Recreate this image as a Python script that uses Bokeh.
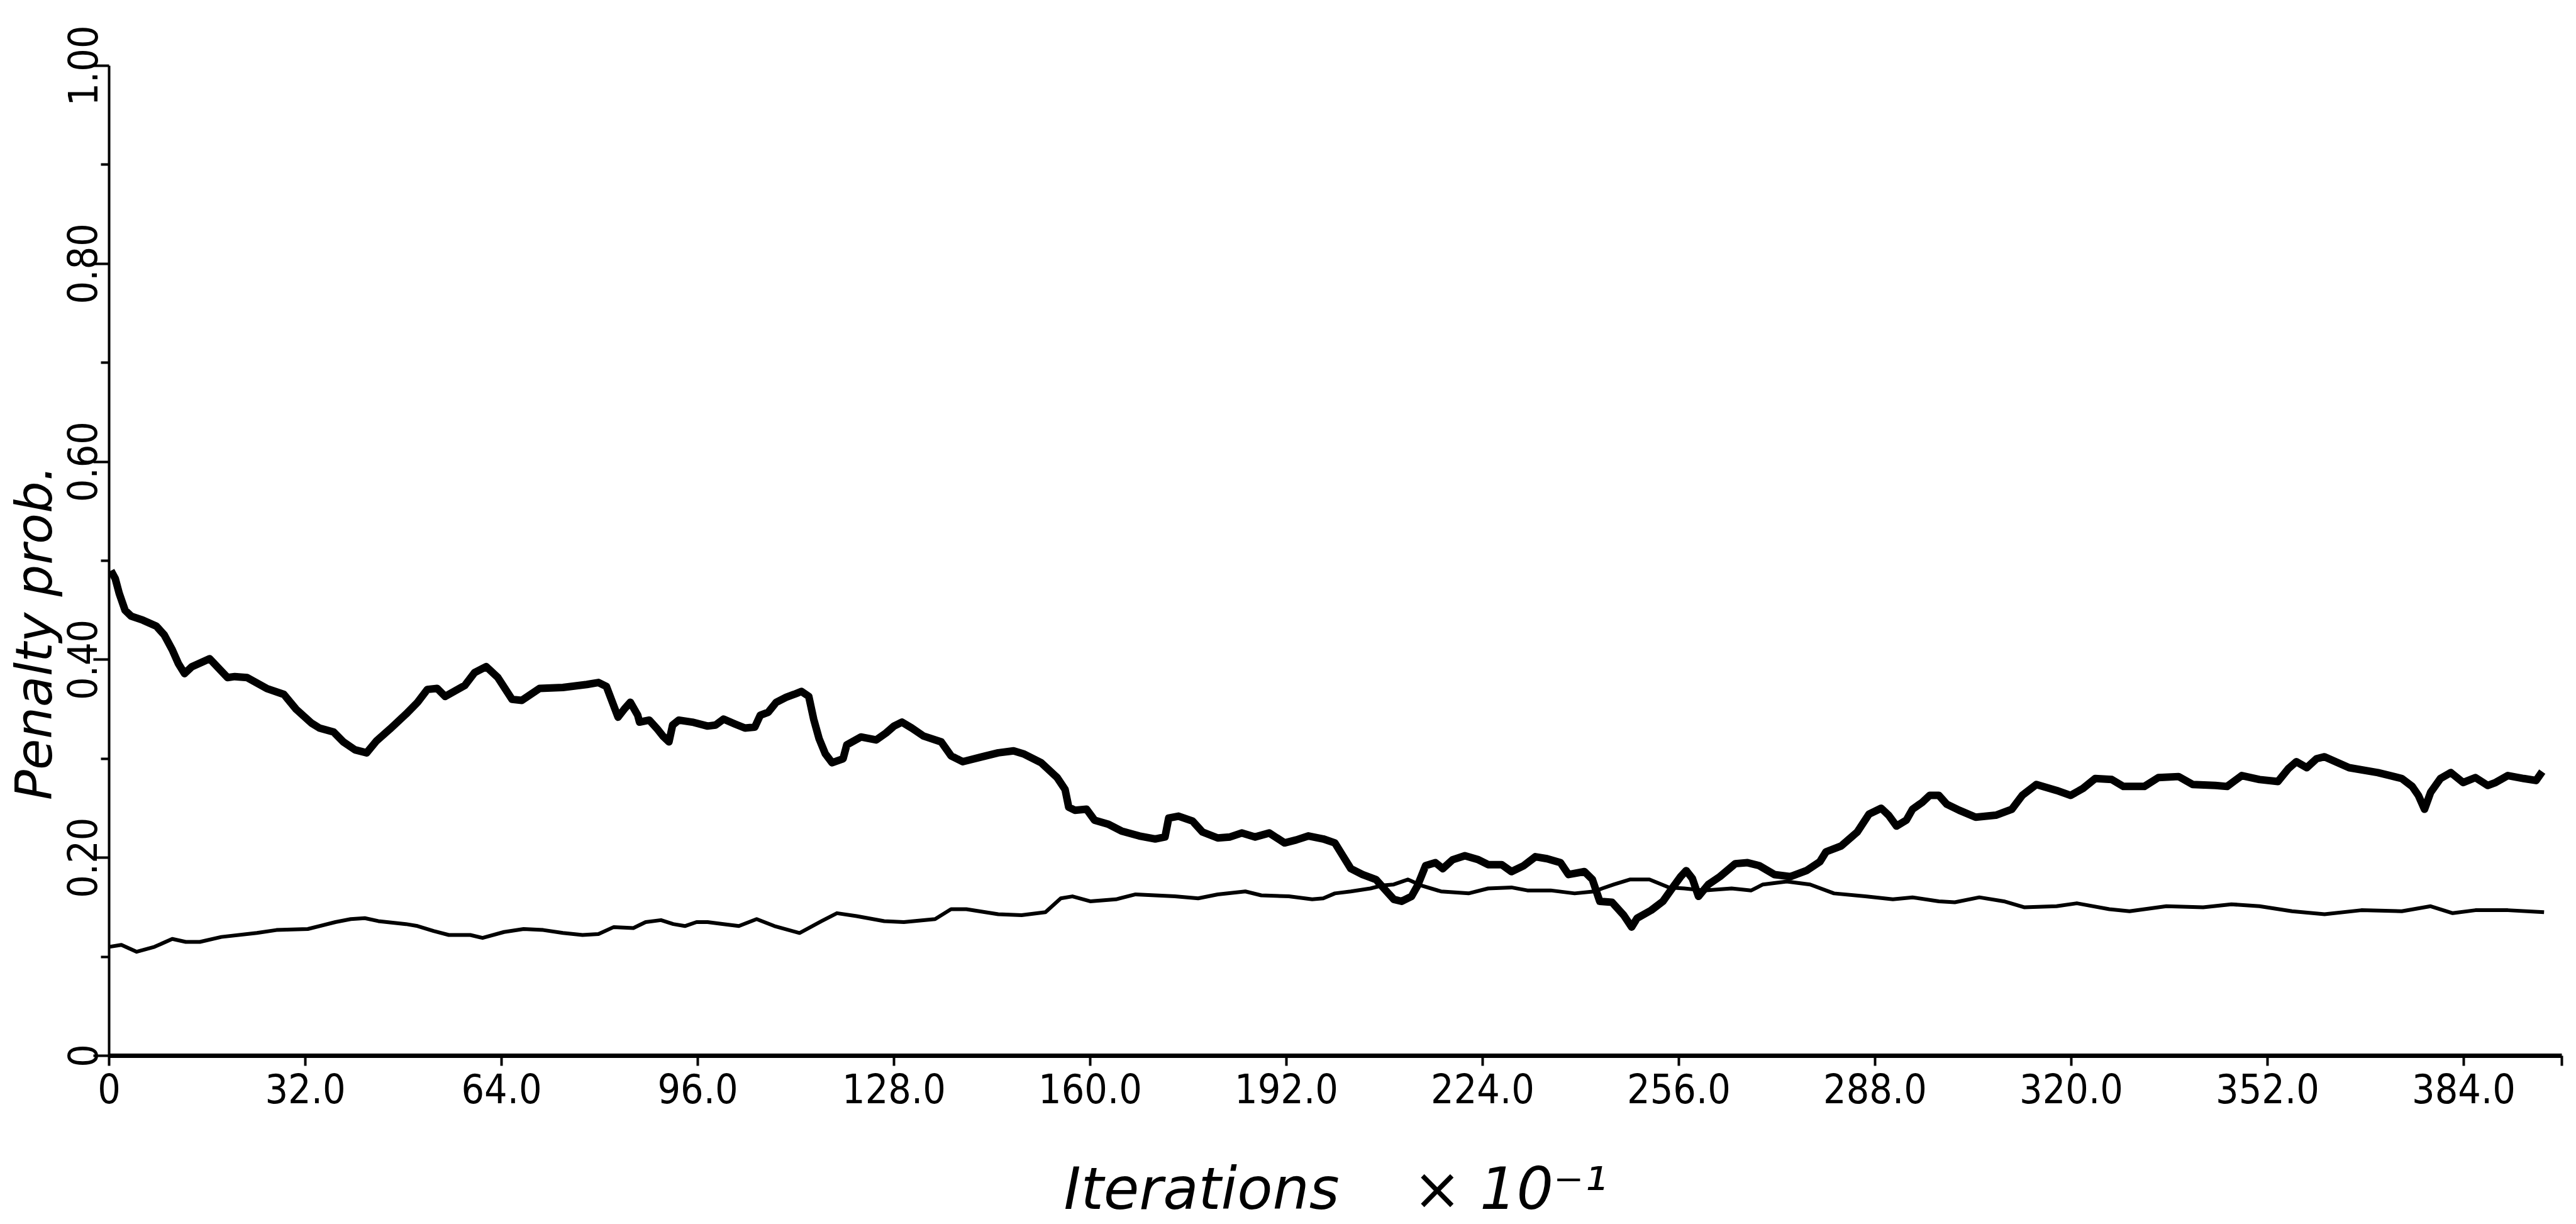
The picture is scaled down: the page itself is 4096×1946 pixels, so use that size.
from bokeh.embed import file_html
from bokeh.models import FixedTicker, Range1d
from bokeh.plotting import figure
from bokeh.resources import INLINE

# Iterations (x 10^-1) for the upper, heavy trace
thick_x = [
    0.3, 1.0, 1.65, 2.6, 3.6, 5.5, 7.7, 9.0, 10.3, 11.3,
    12.3, 13.5, 16.4, 19.3, 20.5, 22.5, 25.7, 28.5, 30.5, 33.0,
    34.3, 36.6, 38.2, 40.1, 42.0, 43.6, 45.8, 48.4, 50.3, 51.9,
    53.5, 54.8, 58.0, 59.6, 61.5, 63.4, 65.7, 67.3, 70.2, 74.0,
    77.9, 79.8, 81.1, 83.0, 84.0, 85.0, 86.2, 86.5, 88.1, 89.4,
    90.3, 91.3, 91.9, 92.9, 95.1, 97.6,
    98.9, 100.2, 102.1, 103.7, 105.3, 106.2, 107.5, 108.8, 110.4, 111.7,
    112.9, 114.1, 114.9, 115.8, 116.8, 117.9, 119.7, 120.3, 122.6, 125.1,
    126.7, 128.0, 129.3, 130.9, 132.8, 135.7, 137.3, 139.2, 142.4, 145.0,
    147.5, 149.1, 152.0, 154.6, 155.9, 156.5, 157.5, 159.4, 160.7, 162.9,
    165.1, 168.0, 170.6, 172.2, 172.8, 174.4, 176.7, 178.3, 180.8, 182.8,
    184.7, 186.9, 189.2, 191.7, 193.6, 195.6, 198.0,
    199.9, 201.2, 202.5, 204.4, 206.6, 208.2, 209.5, 210.8, 212.4, 213.4,
    214.7, 216.3, 217.5, 219.1, 221.1, 223.3, 224.9, 227.1, 228.7, 230.7,
    232.6, 234.5, 236.7, 238.0, 240.6, 241.9, 243.1, 245.1, 247.0, 248.3,
    249.2, 251.5, 253.4, 255.0, 256.3, 257.2, 258.2, 259.2, 260.8, 262.7,
    265.2, 267.2, 269.1, 271.6, 274.2, 276.8, 279.0, 280.0, 282.5, 285.1,
    287.0, 289.0, 290.2, 291.5, 293.1, 294.1, 295.7, 296.9, 298.4,
    299.7, 301.7, 304.4, 307.7, 310.3, 312.0, 314.3, 317.6, 319.9, 321.9,
    323.9, 326.6, 328.5, 331.9, 334.2, 337.5, 339.8, 343.5, 345.4, 347.8,
    350.7, 353.7, 355.4, 356.7, 358.4, 360.0, 361.3, 365.3, 370.0, 372.0,
    373.9, 375.6, 376.6, 377.6, 378.6, 380.2, 381.9, 383.9, 385.9, 387.9,
    389.2, 391.2, 393.8, 395.8, 396.8,
]

# Penalty probability of the heavy trace
thick_y = [
    0.490, 0.482, 0.467, 0.450, 0.444, 0.440, 0.434, 0.425, 0.410, 0.396,
    0.386, 0.393, 0.401, 0.382, 0.383, 0.382, 0.371, 0.365, 0.350, 0.336,
    0.331, 0.327, 0.317, 0.309, 0.306, 0.318, 0.330, 0.345, 0.357, 0.370,
    0.371, 0.363, 0.374, 0.387, 0.393, 0.382, 0.360, 0.359, 0.371, 0.372,
    0.375, 0.377, 0.373, 0.342, 0.350, 0.357, 0.344, 0.337, 0.339, 0.330,
    0.323, 0.317, 0.334, 0.339, 0.337, 0.333,
    0.334, 0.340, 0.335, 0.331, 0.332, 0.344, 0.347, 0.357, 0.362, 0.365,
    0.368, 0.363, 0.340, 0.320, 0.305, 0.296, 0.300, 0.314, 0.322, 0.319,
    0.326, 0.333, 0.337, 0.331, 0.323, 0.317, 0.303, 0.297, 0.302, 0.306,
    0.308, 0.305, 0.296, 0.281, 0.269, 0.251, 0.248, 0.249, 0.238, 0.234,
    0.227, 0.222, 0.219, 0.221, 0.240, 0.242, 0.237, 0.226, 0.220, 0.221,
    0.225, 0.221, 0.225, 0.215, 0.218, 0.222, 0.219,
    0.215, 0.202, 0.189, 0.183, 0.178, 0.167, 0.158, 0.156, 0.161, 0.172,
    0.192, 0.195, 0.189, 0.198, 0.202, 0.198, 0.193, 0.193, 0.186, 0.192,
    0.201, 0.199, 0.195, 0.183, 0.186, 0.178, 0.156, 0.155, 0.142, 0.130,
    0.139, 0.147, 0.156, 0.170, 0.181, 0.187, 0.179, 0.161, 0.173, 0.181,
    0.194, 0.195, 0.192, 0.183, 0.181, 0.187, 0.196, 0.206, 0.212, 0.226,
    0.244, 0.250, 0.243, 0.232, 0.238, 0.249, 0.256, 0.263, 0.263,
    0.254, 0.248, 0.241, 0.243, 0.249, 0.263, 0.274, 0.268, 0.263, 0.270,
    0.280, 0.279, 0.272, 0.272, 0.281, 0.282, 0.274, 0.273, 0.272, 0.283,
    0.279, 0.277, 0.290, 0.297, 0.291, 0.300, 0.302, 0.291, 0.286, 0.283,
    0.280, 0.272, 0.263, 0.249, 0.266, 0.280, 0.286, 0.276, 0.281, 0.273,
    0.276, 0.283, 0.280, 0.278, 0.287,
]

# Iterations (x 10^-1) for the lower, light trace
thin_x = [
    0.0, 2.0, 4.5, 7.4, 10.3, 12.5, 14.8, 18.3, 24.1, 27.3,
    32.4, 36.9, 39.4, 41.7, 43.9, 48.4, 50.3, 52.9, 55.4, 58.9,
    60.9, 64.4, 67.6, 70.8, 74.0, 77.2, 79.8, 82.3, 85.5, 87.5,
    90.0, 92.0, 93.9, 95.8, 97.6,
    100.2, 102.7, 105.6, 108.5, 112.6, 116.2, 118.7, 121.9, 126.4, 129.6,
    134.7, 137.3, 139.8, 145.0, 148.8, 152.7, 155.2, 157.1, 160.0, 164.2,
    167.4, 173.8, 177.6, 180.8, 185.3, 187.9, 192.4, 196.2, 198.0,
    199.9, 202.5, 205.7, 207.6, 209.5, 211.8, 214.0, 217.2, 221.7, 224.9,
    228.7, 231.3, 235.1, 239.0, 242.2, 243.5, 245.4, 248.0, 251.2, 254.4,
    256.9, 260.1, 264.6, 267.8, 269.7, 273.6, 277.4, 281.3, 286.4, 290.9,
    294.1, 298.4,
    301.0, 305.0, 309.0, 312.3, 317.6, 320.9, 326.2, 329.5, 335.5, 341.5,
    346.1, 350.7, 356.0, 361.3, 367.3, 373.9, 378.6, 382.2, 385.9, 391.2,
    397.1,
]

# Penalty probability of the light trace
thin_y = [
    0.110, 0.112, 0.105, 0.110, 0.118, 0.115, 0.115, 0.120, 0.124, 0.127,
    0.128, 0.135, 0.138, 0.139, 0.136, 0.133, 0.131, 0.126, 0.122, 0.122,
    0.119, 0.125, 0.128, 0.127, 0.124, 0.122, 0.123, 0.130, 0.129, 0.135,
    0.137, 0.133, 0.131, 0.135, 0.135,
    0.133, 0.131, 0.138, 0.131, 0.124, 0.136, 0.144, 0.141, 0.136, 0.135,
    0.138, 0.148, 0.148, 0.143, 0.142, 0.145, 0.159, 0.161, 0.156, 0.158,
    0.163, 0.161, 0.159, 0.163, 0.166, 0.162, 0.161, 0.158, 0.159,
    0.164, 0.166, 0.169, 0.172, 0.173, 0.178, 0.172, 0.166, 0.164, 0.169,
    0.170, 0.167, 0.167, 0.164, 0.166, 0.169, 0.173, 0.178, 0.178, 0.170,
    0.169, 0.167, 0.169, 0.167, 0.173, 0.176, 0.173, 0.164, 0.161, 0.158,
    0.160, 0.156,
    0.155, 0.160, 0.156, 0.150, 0.151, 0.154, 0.148, 0.146, 0.151, 0.150,
    0.153, 0.151, 0.146, 0.143, 0.147, 0.146, 0.151, 0.144, 0.147, 0.147,
    0.145,
]

x_ticks = [0, 32, 64, 96, 128, 160, 192, 224, 256, 288, 320, 352, 384, 400]
x_tick_labels = ["0", "32.0", "64.0", "96.0", "128.0", "160.0", "192.0",
                 "224.0", "256.0", "288.0", "320.0", "352.0", "384.0", ""]
y_ticks = [0.0, 0.2, 0.4, 0.6, 0.8, 1.0]
y_minor_ticks = [0.1, 0.3, 0.5, 0.7, 0.9]
y_tick_labels = ["0", "0.20", "0.40", "0.60", "0.80", "1.00"]

NBSP = "\u00a0"
TICK_FONT = "Liberation Sans Narrow, DejaVu Sans Condensed, Liberation Sans, sans-serif"
TITLE_FONT = "DejaVu Sans"

p = figure(
    width=4096, height=1946,
    output_backend="svg", toolbar_location=None,
    x_range=Range1d(0, 400), y_range=Range1d(0, 1),
    min_border_left=173, min_border_right=23,
    min_border_top=104, min_border_bottom=262,
)
p.outline_line_color = None
p.grid.visible = False
p.background_fill_color = "white"
p.border_fill_color = "white"

# bottom axis
xa = p.xaxis[0]
xa.ticker = FixedTicker(ticks=x_ticks, minor_ticks=[])
xa.major_label_overrides = dict(zip(x_ticks, x_tick_labels))
xa.axis_line_width = 7
xa.axis_line_color = "black"
xa.major_tick_line_width = 4
xa.major_tick_line_color = "black"
xa.major_tick_in = 0
xa.major_tick_out = 16
xa.minor_tick_line_color = None
xa.major_label_standoff = 12
xa.major_label_text_font = TICK_FONT
xa.major_label_text_font_size = "64px"
xa.major_label_text_color = "black"
xa.axis_label = "Iterations" + NBSP * 4 + "\u00d7" + NBSP + "10\u207b\u00b9"
xa.axis_label_text_font = TITLE_FONT
xa.axis_label_text_font_style = "italic"
xa.axis_label_text_font_size = "92px"
xa.axis_label_text_color = "black"
xa.axis_label_standoff = 80

# left axis; the title is padded at its end so it sits below the axis middle
ya = p.yaxis[0]
ya.ticker = FixedTicker(ticks=y_ticks, minor_ticks=y_minor_ticks)
ya.major_label_overrides = dict(zip(y_ticks, y_tick_labels))
ya.major_label_orientation = "vertical"
ya.axis_line_width = 4
ya.axis_line_color = "black"
ya.major_tick_line_width = 4
ya.major_tick_line_color = "black"
ya.major_tick_in = 0
ya.major_tick_out = 25
ya.minor_tick_line_width = 4
ya.minor_tick_line_color = "black"
ya.minor_tick_in = 0
ya.minor_tick_out = 13
ya.major_label_standoff = -6
ya.major_label_text_font = TICK_FONT
ya.major_label_text_font_size = "64px"
ya.major_label_text_color = "black"
ya.axis_label = "Penalty prob." + NBSP * 9
ya.axis_label_text_font = TITLE_FONT
ya.axis_label_text_font_style = "italic"
ya.axis_label_text_font_size = "80px"
ya.axis_label_text_color = "black"
ya.axis_label_standoff = 4

p.line(thin_x, thin_y, line_width=6, line_color="black", line_join="round")
p.line(thick_x, thick_y, line_width=12, line_color="black", line_join="round")

open("out.html", "w").write(file_html(p, INLINE))
